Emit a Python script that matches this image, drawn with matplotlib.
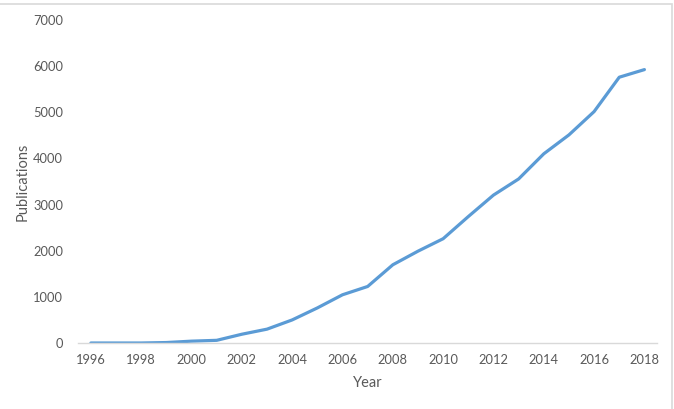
import matplotlib
matplotlib.use("Agg")
import matplotlib.pyplot as plt
from matplotlib.patches import Rectangle

years = list(range(1996, 2019))
publications = [0, 0, 0, 10, 40, 58, 190, 300, 500, 760, 1045, 1225,
                1695, 1990, 2260, 2740, 3205, 3555, 4100, 4510, 5015, 5760, 5925]
xtick_labels = [str(y) for y in range(1996, 2019, 2)]
ytick_values = list(range(0, 7001, 1000))

W, H = 674, 409
fig = plt.figure(figsize=(W / 100, H / 100), dpi=100)
plt.rcParams['font.family'] = ['Lato', 'DejaVu Sans']

left, right, bottom, top = 78.3, 657, 343, 20
ax = fig.add_axes([left / W, 1 - bottom / H, (right - left) / W, (bottom - top) / H])

ax.plot(years, publications, color='#5b9bd5', lw=2.3, solid_capstyle='round', solid_joinstyle='round')
ax.set_xlim(1995.5, 2018.5)
ax.set_ylim(0, 7000)
ax.set_xticks(list(range(1996, 2019, 2)))
ax.set_xticklabels(xtick_labels)
ax.set_yticks(ytick_values)

for s in ['top', 'right', 'left']:
    ax.spines[s].set_visible(False)
ax.spines['bottom'].set_color('#d9d9d9')
ax.spines['bottom'].set_linewidth(1)
ax.tick_params(axis='both', length=0, labelsize=9.3, labelcolor='#595959')
ax.tick_params(axis='x', pad=8)
ax.tick_params(axis='y', pad=11)

fig.text((left + right) / 2 / W, 1 - 383 / H, 'Year', ha='center', va='center', fontsize=10.5, color='#595959')
fig.text(23 / W, 1 - 182 / H, 'Publications', ha='center', va='center', rotation=90, fontsize=10.5, color='#595959')

fig.patches.append(Rectangle((-0.01, -0.01), (672.5 / W) + 0.01, (1 - 4.5 / H) + 0.01,
                             transform=fig.transFigure, fill=False, edgecolor='#d9d9d9', lw=1.2))

fig.savefig('out.png', dpi=100)
